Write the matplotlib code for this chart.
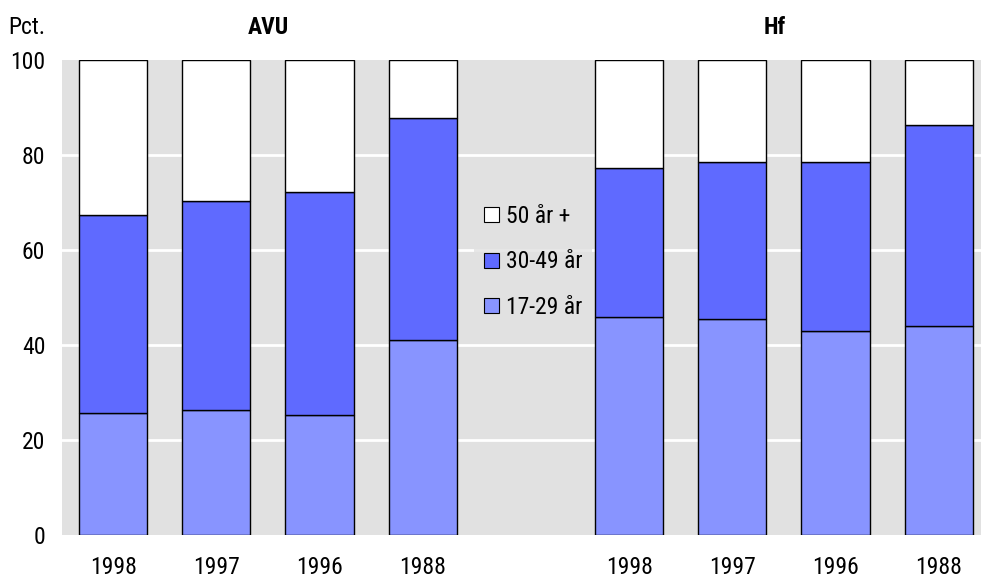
import matplotlib
matplotlib.use("Agg")
import matplotlib.pyplot as plt
from matplotlib.patches import Patch
from matplotlib import font_manager

years = ["1998", "1997", "1996", "1988", "1998", "1997", "1996", "1988"]
groups = ["AVU", "Hf"]
young = [25.7, 26.3, 25.3, 41.1, 45.9, 45.5, 43.0, 44.0]      # 17-29 år
middle = [41.6, 44.0, 46.9, 46.7, 31.3, 33.0, 35.6, 42.3]     # 30-49 år
old = [32.7, 29.7, 27.8, 12.2, 22.8, 21.5, 21.4, 13.7]        # 50 år +
series_labels = ["17-29 år", "30-49 år", "50 år +"]

names = {f.name for f in font_manager.fontManager.ttflist}
narrow = [f for f in ["Liberation Sans Narrow", "Arial Narrow", "Roboto Condensed"] if f in names]
if narrow:
    fam = [narrow[0], "DejaVu Sans"]
    fs = 17
else:
    fam = ["Liberation Sans", "DejaVu Sans"]
    fs = 15.5
plt.rcParams['font.family'] = fam

c_young = "#8894FF"
c_mid = "#5F6AFF"
c_old = "#FFFFFF"

fig = plt.figure(figsize=(9.81, 5.8), dpi=100)
ax = fig.add_axes([62/981, 1 - 535/580, 1 - 62/981, (535 - 60)/580])
ax.set_facecolor("#E1E1E1")

pos = [0, 1, 2, 3, 5, 6, 7, 8]
w = 0.66
bottom2 = [a + b for a, b in zip(young, middle)]
ax.bar(pos, young, width=w, color=c_young, edgecolor="black", linewidth=1, zorder=3)
ax.bar(pos, middle, width=w, bottom=young, color=c_mid, edgecolor="black", linewidth=1, zorder=3)
ax.bar(pos, old, width=w, bottom=bottom2, color=c_old, edgecolor="black", linewidth=1, zorder=3)

ax.set_xlim(-0.495, 8.41)
ax.set_ylim(0, 100)
ax.set_yticks([0, 20, 40, 60, 80, 100])
ax.set_xticks(pos)
ax.set_xticklabels(years)
for y in [20, 40, 60, 80]:
    ax.axhline(y, color="white", lw=2, zorder=1)
for s in ax.spines.values():
    s.set_visible(False)
ax.tick_params(axis="both", length=0, labelsize=fs)
ax.tick_params(axis="x", pad=15)
ax.tick_params(axis="y", pad=12)

fig.text(8/981, 1 - 27/580, "Pct.", fontsize=fs, va="center", ha="left")
fig.text(268/981, 1 - 27/580, groups[0], fontsize=fs,
         fontweight="bold", ha="center", va="center")
fig.text(775/981, 1 - 27/580, groups[1], fontsize=fs, fontweight="bold", ha="center", va="center")

handles = [Patch(facecolor=c_old, edgecolor="black", linewidth=0.8, label=series_labels[2]),
           Patch(facecolor=c_mid, edgecolor="black", linewidth=0.8, label=series_labels[1]),
           Patch(facecolor=c_young, edgecolor="black", linewidth=0.8, label=series_labels[0])]
leg = ax.legend(handles=handles, loc="center", bbox_to_anchor=(533/981, 1 - 262/580),
                bbox_transform=fig.transFigure, frameon=True, fontsize=fs,
                handlelength=0.62, handleheight=0.62, handletextpad=0.3,
                labelspacing=0.95, borderpad=0.4)
leg.get_frame().set_facecolor("#E1E1E1")
leg.get_frame().set_edgecolor("none")
leg.set_zorder(5)

fig.savefig("out.png", dpi=100)
